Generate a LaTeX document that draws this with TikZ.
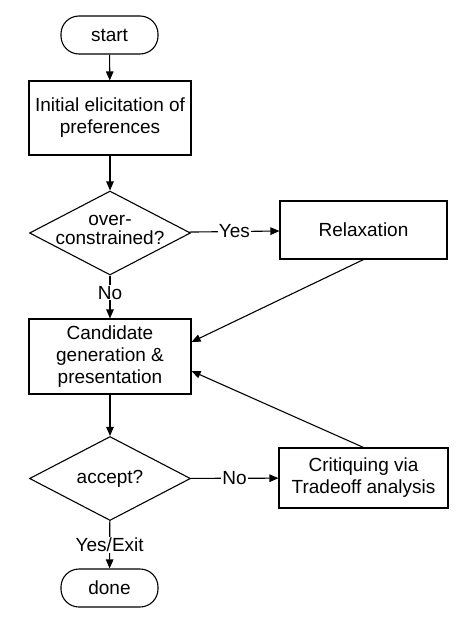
\documentclass[tikz,border=0pt]{standalone}
\usepackage{fontspec}
\setmainfont{Liberation Sans}
\usetikzlibrary{shapes.geometric,arrows.meta}
\begin{document}
\begin{tikzpicture}[x=1pt,y=-1pt,
  every node/.style={font=\fontsize{19}{22}\selectfont},
  base/.style={draw=black,line width=1.1pt,align=center,inner sep=0pt},
  term/.style={base,rectangle,rounded corners=18pt,minimum width=97pt,minimum height=38pt},
  proc/.style={base,rectangle,minimum width=162pt},
  decis/.style={base,diamond,aspect=1.9,minimum width=161pt,minimum height=84pt},
  conn/.style={line width=1.1pt,-{Triangle[length=9pt,width=7.5pt]}},
  lab/.style={fill=white,inner sep=1pt}
]
\useasboundingbox (0,0) rectangle (469,624);
\node[term] (start) at (109.5,35) {start};
\node[proc,minimum height=74pt] (init) at (110,118) {Initial elicitation of\\preferences};
\node[decis] (over) at (110,233) {};
\node[font=\fontsize{19}{18.5}\selectfont,align=center,inner sep=0pt] (overtxt) at (110,230) {over-\\constrained?};
\node[proc,minimum width=167pt,minimum height=58pt] (relax) at (363.5,230) {Relaxation};
\node[proc,minimum height=75pt] (cand) at (110,356.5) {Candidate\\generation \&\\presentation};
\node[decis] (acc) at (110,478.5) {accept?};
\node[proc,minimum width=169pt,minimum height=60pt] (crit) at (363.5,478) {Critiquing via\\Tradeoff analysis};
\node[term] (done) at (109.5,588) {done};

\draw[conn] (start) -- (init);
\draw[conn] (init) -- (over);
\draw[conn] (over) -- node[lab] {Yes} (relax);
\draw[conn] (over) -- node[lab,pos=0.4] {No} (cand);
\draw[conn] (relax.south) -- ([yshift=14.5pt]cand.east);
\draw[conn] (cand) -- (acc);
\draw[conn] (acc) -- node[lab] {No} (crit);
\draw[conn] (crit.north) -- ([yshift=-14.5pt]cand.east);
\draw[conn] (acc) -- node[lab] {Yes/Exit} (done);
\end{tikzpicture}
\end{document}
